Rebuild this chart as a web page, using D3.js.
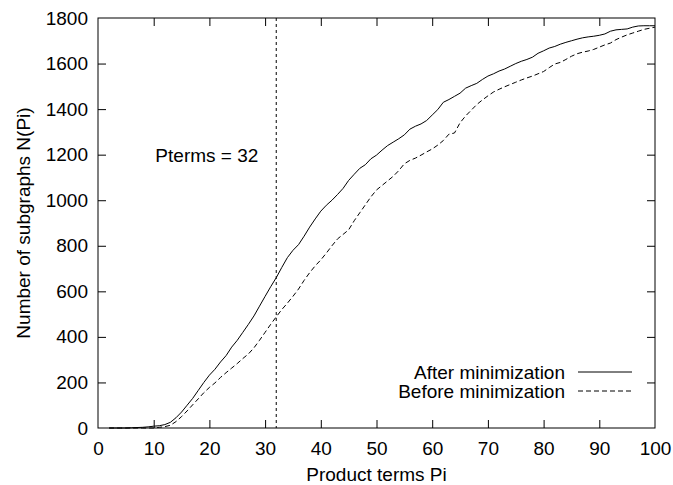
<!DOCTYPE html>
<html>
<head>
<meta charset="utf-8">
<script src="https://d3js.org/d3.v7.min.js"></script>
<style>
  body { margin: 0; background: #fff; }
  text { font-family: "Liberation Sans", Arial, Helvetica, sans-serif; fill: #000; }
</style>
</head>
<body>
<script>
// product terms Pi (x) and subgraph counts N(Pi)
var pi = d3.range(2, 101);
var afterMin = [0, 0, 0, 0, 1, 2, 3, 5, 8, 10, 15, 25, 45, 70, 100, 130, 165, 200,
  232, 258, 290, 318, 355, 385, 420, 455, 492, 535, 578, 620, 660, 705, 748, 780,
  805, 842, 882, 918, 952, 978, 1000, 1025, 1052, 1087, 1114, 1140, 1156, 1182, 1198,
  1220, 1240, 1255, 1270, 1287, 1312, 1325, 1335, 1350, 1374, 1398, 1430, 1442, 1456,
  1470, 1492, 1503, 1513, 1530, 1545, 1555, 1567, 1576, 1588, 1600, 1610, 1618, 1628,
  1645, 1656, 1668, 1675, 1685, 1693, 1700, 1707, 1713, 1717, 1720, 1724, 1730, 1742,
  1748, 1750, 1752, 1760, 1765, 1766, 1766, 1766];
var beforeMin = [0, 0, 0, 0, 0, 0, 0, 0, 0, 3, 6, 12, 28, 50, 75, 102, 128, 155,
  178, 198, 222, 243, 263, 283, 305, 325, 352, 385, 420, 455, 488, 520, 548, 578,
  610, 648, 682, 712, 738, 768, 800, 830, 850, 870, 910, 945, 980, 1015, 1045, 1065,
  1085, 1105, 1130, 1160, 1175, 1185, 1198, 1212, 1225, 1242, 1262, 1290, 1295, 1340,
  1370, 1395, 1420, 1440, 1458, 1475, 1487, 1498, 1508, 1518, 1528, 1537, 1545, 1555,
  1565, 1582, 1598, 1605, 1618, 1632, 1643, 1650, 1655, 1662, 1672, 1682, 1690, 1705,
  1716, 1726, 1734, 1742, 1750, 1755, 1760];
var xTicks = d3.range(0, 101, 10);
var yTicks = d3.range(0, 1801, 200);
var pterms = 32;

var W = 673, H = 485;
var margin = {top: 18, right: 18, bottom: 57, left: 98};
var width = W - margin.left - margin.right;
var height = H - margin.top - margin.bottom;
var fs = 19;

var svg = d3.select("body").append("svg")
    .attr("width", W).attr("height", H);
var g = svg.append("g")
    .attr("transform", "translate(" + margin.left + "," + margin.top + ")");

var x = d3.scaleLinear().domain([0, 100]).range([0, width]);
var y = d3.scaleLinear().domain([0, 1800]).range([height, 0]);

// gnuplot style: ticks point inward on all four sides
var tick = 8;
var axB = g.append("g").attr("transform", "translate(0," + height + ")")
    .call(d3.axisBottom(x).tickValues(xTicks).tickFormat(d3.format("d"))
      .tickSizeInner(-tick).tickSizeOuter(0).tickPadding(14));
var axL = g.append("g")
    .call(d3.axisLeft(y).tickValues(yTicks).tickFormat(d3.format("d"))
      .tickSizeInner(-tick).tickSizeOuter(0).tickPadding(10));
var axT = g.append("g")
    .call(d3.axisTop(x).tickValues(xTicks).tickSizeInner(-tick).tickSizeOuter(0).tickFormat(""));
var axR = g.append("g").attr("transform", "translate(" + width + ",0)")
    .call(d3.axisRight(y).tickValues(yTicks).tickSizeInner(-tick).tickSizeOuter(0).tickFormat(""));
[axB, axL, axT, axR].forEach(a => {
  a.select(".domain").remove();
  a.selectAll("line").attr("stroke", "#000");
  a.selectAll("text").attr("font-size", fs).attr("font-family", null);
});
axB.selectAll(".tick").filter(d => d == 0 || d == 100).select("line").remove();
axL.selectAll(".tick").filter(d => d == 0 || d == 1800).select("line").remove();
axT.selectAll(".tick").filter(d => d == 0 || d == 100).select("line").remove();
axR.selectAll(".tick").filter(d => d == 0 || d == 1800).select("line").remove();

g.append("rect")
    .attr("x", 0).attr("y", 0)
    .attr("width", width).attr("height", height)
    .attr("fill", "none").attr("stroke", "#000").attr("stroke-width", 1);

// vertical marker at Pterms
g.append("line")
    .attr("x1", x(pterms)).attr("x2", x(pterms))
    .attr("y1", 0).attr("y2", height)
    .attr("stroke", "#000").attr("stroke-width", 1)
    .attr("stroke-dasharray", "3,3");
g.append("text")
    .attr("x", x(10.3)).attr("y", y(1200) + 7)
    .attr("font-size", fs)
    .text("Pterms = " + pterms);

var line = d3.line().x(d => x(d[0])).y(d => y(d[1]));
var series = [
  {name: "After minimization", values: afterMin, dash: null},
  {name: "Before minimization", values: beforeMin, dash: "5,3"}
];
series.forEach((s, i) => {
  g.append("path")
      .datum(pi.map((p, j) => [p, s.values[j]]))
      .attr("fill", "none").attr("stroke", "#000").attr("stroke-width", 1)
      .attr("stroke-dasharray", s.dash)
      .attr("d", line);
  var ly = 354 + i * 19;
  g.append("text")
      .attr("x", 467).attr("y", ly + 7)
      .attr("text-anchor", "end").attr("font-size", fs)
      .text(s.name);
  g.append("line")
      .attr("x1", 480).attr("x2", 534)
      .attr("y1", ly).attr("y2", ly)
      .attr("stroke", "#000").attr("stroke-width", 1)
      .attr("stroke-dasharray", s.dash);
});

svg.append("text")
    .attr("x", margin.left + width / 2).attr("y", 481)
    .attr("text-anchor", "middle").attr("font-size", fs)
    .text("Product terms Pi");
svg.append("text")
    .attr("transform", "translate(30," + (margin.top + height / 2) + ") rotate(-90)")
    .attr("text-anchor", "middle").attr("font-size", fs)
    .text("Number of subgraphs N(Pi)");
</script>
</body>
</html>
